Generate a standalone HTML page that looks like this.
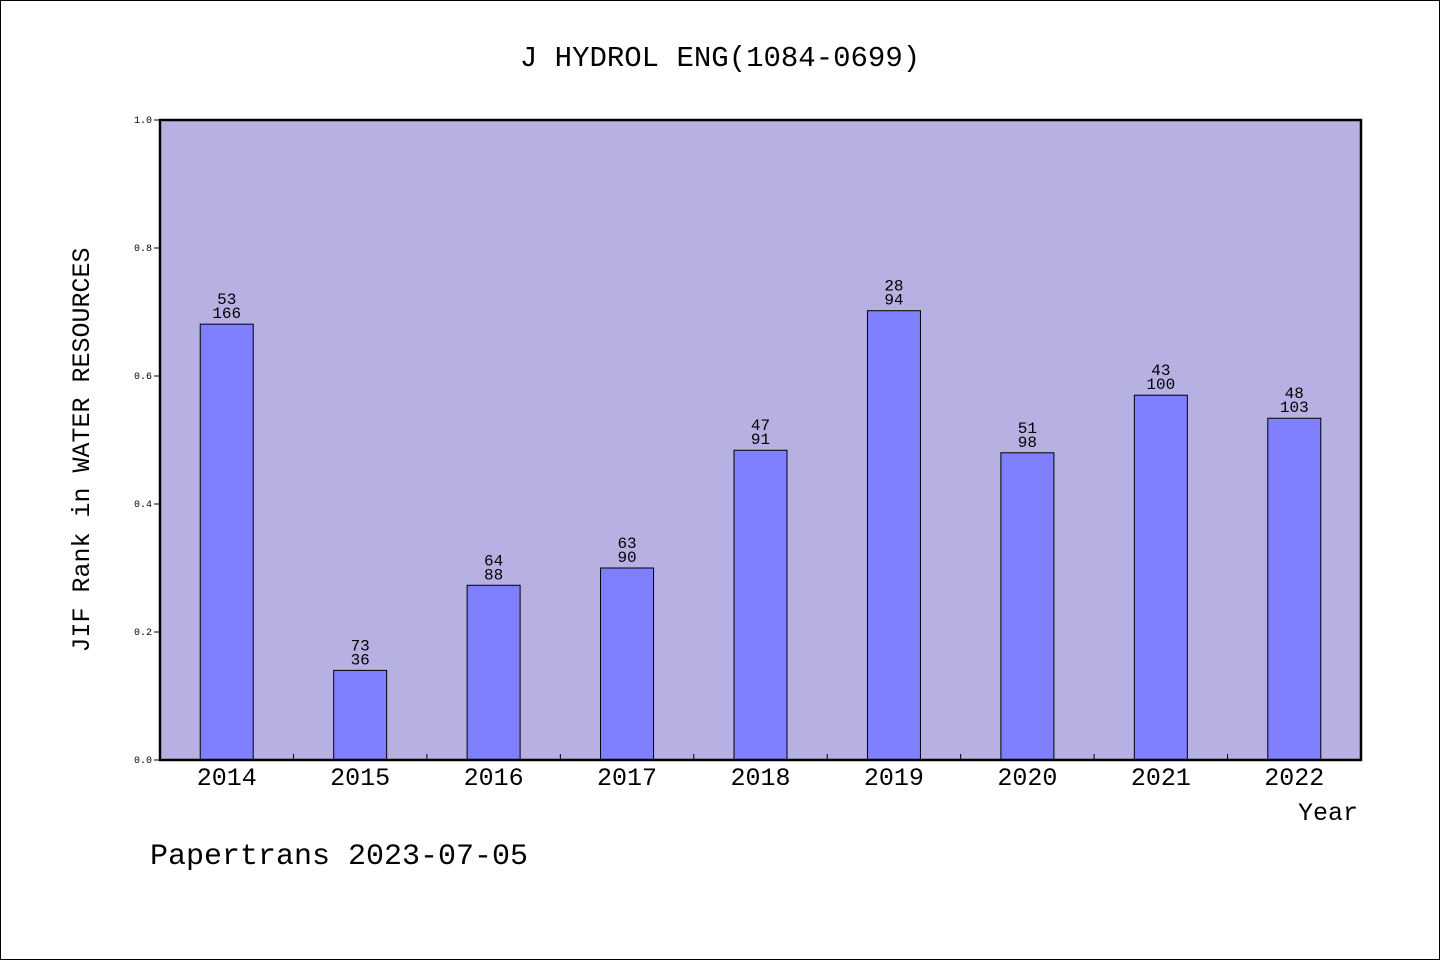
<!DOCTYPE html>
<html><head><meta charset="utf-8"><style>
body{margin:0;background:#fff}
svg text{font-family:"WenQuanYi Zen Hei","Liberation Mono",monospace;fill:#000}
</style></head><body>
<svg id="chart" width="1440" height="960" xmlns="http://www.w3.org/2000/svg">
<rect x="0.5" y="0.5" width="1439" height="959" fill="#fff" stroke="#000"/>
<text x="720" y="66" font-size="29" text-anchor="middle">J HYDROL ENG(1084-0699)</text>
<rect x="160" y="120" width="1201" height="640" fill="#b6b0e3"/>
<g id="bars"></g>
<rect x="160" y="120" width="1201" height="640" fill="none" stroke="#000" stroke-width="2.5"/>
<text transform="translate(89,450) rotate(-90)" font-size="25" text-anchor="middle">JIF Rank in WATER RESOURCES</text>
<text x="1358" y="820" font-size="25" text-anchor="end">Year</text>
<text x="150" y="864" font-size="30">Papertrans 2023-07-05</text>
</svg>
<script>
const years=["2014","2015","2016","2017","2018","2019","2020","2021","2022"];
const ranks=[53,73,64,63,47,28,51,43,48];
const totals=[166,36,88,90,91,94,98,100,103];
const values=[0.681,0.14,0.273,0.30,0.484,0.702,0.480,0.57,0.534];
const yTicks=[0,0.2,0.4,0.6,0.8,1.0];
const X0=160,W=1201,Y0=760,H=640;
const band=W/years.length;
const y=v=>Y0-v*H;
const xc=i=>X0+band*(i+0.5);
const NS="http://www.w3.org/2000/svg";
const svg=document.getElementById('chart');
const g=document.getElementById('bars');
function mk(t,a,p){const e=document.createElementNS(NS,t);for(const k in a)e.setAttribute(k,a[k]);(p||svg).appendChild(e);return e;}
yTicks.forEach(v=>{
 const l=mk('line',{x1:X0-6,x2:X0,y1:y(v),y2:y(v),stroke:'#000'});
 
 
 const t=mk('text',{x:X0-8,y:y(v)+3,'font-size':10,'text-anchor':'end'});
 t.textContent=v.toFixed(1);
 
 
});
years.forEach((yr,i)=>{
 const bw=53;
 const r=mk('rect',{x:xc(i)-bw/2,y:y(values[i]),width:bw,height:values[i]*H,fill:'#8080ff',stroke:'#000','stroke-width':1},g);
 
 
 const t1=mk('text',{x:xc(i),y:y(values[i])-20,'font-size':16,'text-anchor':'middle'});
 t1.textContent=ranks[i];
 
 
 const t2=mk('text',{x:xc(i),y:y(values[i])-6,'font-size':16,'text-anchor':'middle'});
 t2.textContent=totals[i];
 
 
 const xl=mk('text',{x:xc(i),y:785,'font-size':25,'text-anchor':'middle'});
 xl.textContent=yr;
 
 
 if(i>0){
  const tk=mk('line',{x1:X0+band*i,x2:X0+band*i,y1:Y0,y2:Y0-6,stroke:'#000'});
  
  
 }
});
</script>
</body></html>
